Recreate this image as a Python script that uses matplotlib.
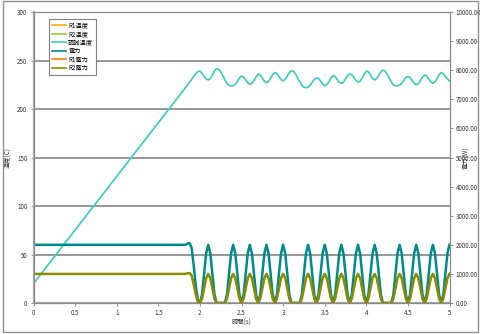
import matplotlib
matplotlib.use("Agg")
import matplotlib.pyplot as plt
from matplotlib.patches import Rectangle

plt.rcParams['font.family'] = ['Noto Sans CJK JP', 'DejaVu Sans']

# ---- data ----
t_start = [0.0]
t_step_start, t_step, n_steps = 1.8, 0.025, 129
time = t_start + [round(t_step_start + t_step * i, 3) for i in range(n_steps)]

temp_vals = [20,
    219, 222, 224.5, 227.5, 230.5, 233.5, 236.5, 238.5, 239,
    237, 233.5, 231, 230, 231.5, 235, 239.5, 241.5,
    241, 238.5, 234.5, 230,
    226.5, 224.5, 224, 224, 225.5, 228.5, 232, 234,
    233, 230, 227, 225.5, 226.5, 229.5, 233, 236,
    235, 232, 228.5, 227, 228.5, 232, 235.5, 237.5,
    236.5, 233.5, 230.5, 229, 230.5, 234, 237.5, 239.5,
    239, 236, 232, 228,
    224.5, 222.5, 222, 222.5, 224.5, 227.5, 230.5, 232,
    231.5, 229, 226, 224, 225, 228, 232, 234.5,
    233.5, 230.5, 227.5, 226.5, 227.5, 231, 234.5, 236,
    235.5, 232.5, 229.5, 228, 228.5, 232, 236, 239,
    238.5, 235, 231.5, 230, 231.5, 235, 238.5, 240,
    239, 236, 232, 228,
    225, 224, 224, 224.5, 226.5, 229.5, 232.5, 233.5,
    232.5, 229.5, 226.5, 225, 226, 229.5, 233, 235,
    234, 231, 228, 226.5, 228, 231.5, 235.5, 237.5,
    236.5, 233.5, 231, 229]

total_power = [2000,
    2000, 2000, 2040, 2060, 1900, 1300, 600, 100, 0,
    293, 1000, 1707, 2000, 1707, 1000, 293, 0,
    0, 0, 0, 0,
    293, 1000, 1707, 2000, 1707, 1000, 293, 0,
    293, 1000, 1707, 2000, 1707, 1000, 293, 0,
    293, 1000, 1707, 2000, 1707, 1000, 293, 0,
    293, 1000, 1707, 2000, 1707, 1000, 293, 0,
    0, 0, 0, 0,
    293, 1000, 1707, 2000, 1707, 1000, 293, 0,
    293, 1000, 1707, 2000, 1707, 1000, 293, 0,
    293, 1000, 1707, 2000, 1707, 1000, 293, 0,
    293, 1000, 1707, 2000, 1707, 1000, 293, 0,
    293, 1000, 1707, 2000, 1707, 1000, 293, 0,
    0, 0, 0, 0,
    293, 1000, 1707, 2000, 1707, 1000, 293, 0,
    293, 1000, 1707, 2000, 1707, 1000, 293, 0,
    293, 1000, 1707, 2000, 1707, 1000, 293, 0,
    293, 1000, 1707, 2000]

unit_power = [1000,
    1000, 1000, 1020, 1030, 950, 650, 300, 50, 0,
    146, 500, 854, 1000, 854, 500, 146, 0,
    0, 0, 0, 0,
    146, 500, 854, 1000, 854, 500, 146, 0,
    146, 500, 854, 1000, 854, 500, 146, 0,
    146, 500, 854, 1000, 854, 500, 146, 0,
    146, 500, 854, 1000, 854, 500, 146, 0,
    0, 0, 0, 0,
    146, 500, 854, 1000, 854, 500, 146, 0,
    146, 500, 854, 1000, 854, 500, 146, 0,
    146, 500, 854, 1000, 854, 500, 146, 0,
    146, 500, 854, 1000, 854, 500, 146, 0,
    146, 500, 854, 1000, 854, 500, 146, 0,
    0, 0, 0, 0,
    146, 500, 854, 1000, 854, 500, 146, 0,
    146, 500, 854, 1000, 854, 500, 146, 0,
    146, 500, 854, 1000, 854, 500, 146, 0,
    146, 500, 854, 1000]

r1_temp = temp_vals
r2_temp = temp_vals
meas_temp = temp_vals
r1_power = unit_power
r2_power = unit_power

x_ticks = [0, 0.5, 1, 1.5, 2, 2.5, 3, 3.5, 4, 4.5, 5]
x_ticklabels = ["0", "0.5", "1", "1.5", "2", "2.5", "3", "3.5", "4", "4.5", "5"]
left_ticks = [0, 50, 100, 150, 200, 250, 300]
right_ticks = [0, 1000, 2000, 3000, 4000, 5000, 6000, 7000, 8000, 9000, 10000]

labels = ["R1温度", "R2温度", "認識温度", "電力", "R1電力", "R2電力"]
colors = ["#FFA500", "#9ACD32", "#3CCFCF", "#008B8B", "#FF7F00", "#8C8C00"]

# ---- figure ----
fig = plt.figure(figsize=(4.8, 3.34), dpi=100)
fig.patch.set_facecolor("white")
fig.add_artist(Rectangle((0.006, 0.006), 0.99, 0.99, transform=fig.transFigure,
                         fill=False, edgecolor="#909090", linewidth=1.0))

ax = fig.add_axes([0.0698, 0.0928, 0.8667, 0.8712])
ax2 = ax.twinx()

fs = 4.5
l1, = ax.plot(time, r1_temp, color=colors[0], lw=0.6)
l2, = ax.plot(time, r2_temp, color=colors[1], lw=0.6)
l3, = ax.plot(time, meas_temp, color=colors[2], lw=1.2)
l4, = ax2.plot(time, total_power, color=colors[3], lw=1.8)
l5, = ax2.plot(time, r1_power, color=colors[4], lw=1.2)
l6, = ax2.plot(time, r2_power, color=colors[5], lw=1.8)

ax.set_xlim(0, 5)
ax.set_ylim(0, 300)

ax.set_xticks(x_ticks)
ax.set_xticklabels(x_ticklabels)
ax.set_yticks(left_ticks)
ax2.set_yticks(right_ticks)
ax2.set_yticklabels(["%.2f" % v for v in right_ticks])
ax2.set_ylim(0, 10000)

ax.grid(axis="y", color="#858585", lw=1.2)
ax.set_axisbelow(True)

for a in (ax, ax2):
    a.tick_params(labelsize=fs, length=2.5, width=0.6, color="#808080", pad=2,
                  labelcolor="#333333")
    for s in a.spines.values():
        s.set_color("#8a8a8a")
        s.set_linewidth(0.8)
ax.spines["left"].set_linewidth(1.6)
ax.spines["left"].set_color("#a8a8a8")
ax.spines["bottom"].set_linewidth(1.6)
ax.spines["bottom"].set_color("#a8a8a8")

ax.set_xlabel("時間(s)", fontsize=fs, labelpad=1, color="#333333")
ax.set_ylabel("温度(C)", fontsize=fs, labelpad=3, color="#333333")
ax2.set_ylabel("電力(W)", fontsize=fs, labelpad=-14, color="#333333")

leg = ax2.legend([l1, l2, l3, l4, l5, l6], labels, loc="upper left",
                 bbox_to_anchor=(0.038, 0.976), borderaxespad=0, fontsize=fs,
                 frameon=True, fancybox=False, framealpha=1, edgecolor="#808080",
                 handlelength=2.3, handletextpad=0.3, labelspacing=0.08,
                 borderpad=0.4)
leg.get_frame().set_linewidth(0.8)
for line in leg.get_lines():
    line.set_linewidth(1.2)

fig.savefig("out.png", dpi=100)
